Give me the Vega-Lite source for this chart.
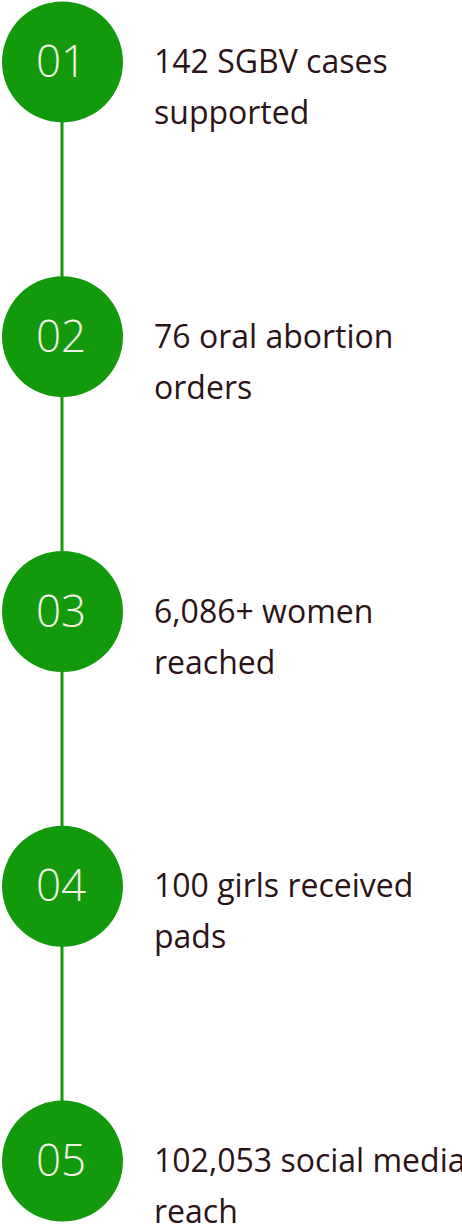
{
  "$schema": "https://vega.github.io/schema/vega-lite/v6.json",
  "autosize": {"type": "fit", "contains": "padding"},
  "width": 462,
  "height": 1229,
  "padding": 0,
  "background": "#ffffff",
  "config": {"view": {"stroke": null}},
  "data": {
    "values": [
      {"step": 1, "num": "01", "label": "142 SGBV cases\nsupported"},
      {"step": 2, "num": "02", "label": "76 oral abortion\norders"},
      {"step": 3, "num": "03", "label": "6,086+ women\nreached"},
      {"step": 4, "num": "04", "label": "100 girls received\npads"},
      {"step": 5, "num": "05", "label": "102,053 social media\nreach"}
    ]
  },
  "encoding": {
    "y": {
      "field": "step",
      "type": "quantitative",
      "scale": {"domain": [0.7747, 5.2398], "reverse": true, "nice": false, "zero": false},
      "axis": null
    }
  },
  "layer": [
    {
      "mark": {"type": "line", "color": "#129a0c", "strokeWidth": 3},
      "encoding": {"x": {"value": 62}}
    },
    {
      "mark": {"type": "circle", "color": "#129a0c", "opacity": 1, "size": 14641},
      "encoding": {"x": {"value": 62.5}}
    },
    {
      "mark": {"type": "text", "align": "center", "baseline": "alphabetic", "dy": 15, "dx": -1, "font": "Open Sans", "fontWeight": 300, "fontSize": 44, "letterSpacing": 3, "color": "#f4efe6"},
      "encoding": {"x": {"value": 62}, "text": {"field": "num"}}
    },
    {
      "mark": {"type": "text", "align": "left", "baseline": "alphabetic", "dy": 11, "font": "Open Sans", "fontSize": 32, "lineHeight": 51, "lineBreak": "\n", "color": "#2a1417"},
      "encoding": {"x": {"value": 154}, "text": {"field": "label"}}
    }
  ]
}
